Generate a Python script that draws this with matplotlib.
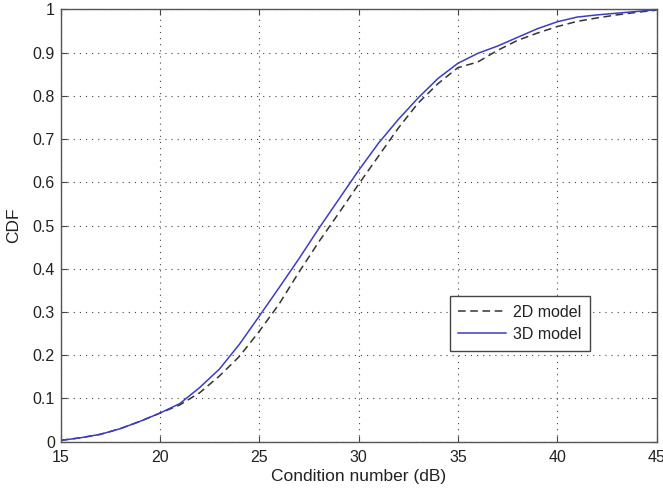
import numpy as np
import matplotlib.pyplot as plt

plt.rcParams['font.family'] = ['Liberation Sans', 'DejaVu Sans']

# condition number grid (dB) and empirical CDF values for each model
cond_db = [15, 16, 17, 18, 19, 20, 21, 22, 23, 24, 25, 26, 27, 28, 29, 30,
           31, 32, 33, 34, 35, 36, 37, 38, 39, 40, 41, 42, 43, 44, 45]
cdf_2d = [0.003, 0.009, 0.017, 0.030, 0.047, 0.066, 0.085, 0.113, 0.152, 0.197,
          0.255, 0.318, 0.392, 0.462, 0.528, 0.595, 0.660, 0.725, 0.783, 0.828,
          0.865, 0.878, 0.905, 0.928, 0.945, 0.960, 0.972, 0.980, 0.987,
          0.993, 0.998]
cdf_3d = [0.003, 0.009, 0.017, 0.030, 0.047, 0.066, 0.088, 0.125, 0.168, 0.225,
          0.290, 0.356, 0.423, 0.493, 0.560, 0.627, 0.690, 0.745, 0.795, 0.840,
          0.875, 0.898, 0.915, 0.935, 0.955, 0.971, 0.982, 0.987, 0.991,
          0.995, 0.999]

fig = plt.figure(figsize=(6.63, 4.93), dpi=100)
ax = fig.add_axes([60.5/663, 1 - 441.7/493, 596/663, 432.4/493])

ax.plot(cond_db, cdf_2d, '--', color='#333333', lw=1.1, dashes=(5, 3), label='2D model')
ax.plot(cond_db, cdf_3d, '-', color='#3d3dc2', lw=1.1, label='3D model')

ax.set_xlim(15, 45)
ax.set_ylim(0, 1)
ax.set_xticks(np.arange(15, 46, 5))
ax.set_yticks(np.arange(0, 1.01, 0.1))
ax.set_yticklabels(['0', '0.1', '0.2', '0.3', '0.4', '0.5', '0.6', '0.7', '0.8', '0.9', '1'])
ax.grid(True, linestyle=(0, (1, 4.5)), color='#444444', lw=0.8)
ax.tick_params(direction='in', top=True, right=True, labelsize=11.5, length=4,
               color='#444444', labelcolor='#222222')
ax.tick_params(axis='x', pad=6)
ax.tick_params(axis='y', pad=4)
for s in ax.spines.values():
    s.set_color('#555555')
    s.set_linewidth(1.0)

ax.set_xlabel('Condition number (dB)', fontsize=12.5, labelpad=3, color='#222222')
ax.set_ylabel('CDF', fontsize=12.5, labelpad=8, color='#222222')

leg = ax.legend(loc='upper left', bbox_to_anchor=(0.653, 0.337), borderaxespad=0,
                fontsize=11.5, frameon=True, fancybox=False, edgecolor='#444444',
                framealpha=1, handlelength=3.0, handletextpad=0.4,
                borderpad=0.55, labelspacing=0.45)
leg.get_frame().set_linewidth(1.0)
for t in leg.get_texts():
    t.set_color('#222222')

fig.savefig('out.png', dpi=100)
